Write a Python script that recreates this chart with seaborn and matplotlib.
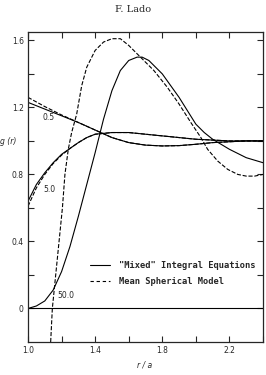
import numpy as np
import pandas as pd
import matplotlib
matplotlib.use("Agg")
import matplotlib.pyplot as plt
import seaborn as sns
from matplotlib.lines import Line2D

# --- data: g(r) vs r/a ---
r_mix_50 = [1.00, 1.05, 1.10, 1.15, 1.20, 1.25, 1.30, 1.35, 1.40, 1.45, 1.50,
            1.55, 1.60, 1.65, 1.68, 1.72, 1.80, 1.90, 2.00, 2.05, 2.10, 2.15,
            2.20, 2.30, 2.40]
g_mix_50 = [0.00, 0.015, 0.045, 0.11, 0.22, 0.37, 0.55, 0.74, 0.93, 1.13, 1.30,
            1.42, 1.48, 1.50, 1.50, 1.48, 1.40, 1.26, 1.10, 1.05, 1.01, 0.98,
            0.95, 0.90, 0.87]

r_msa_50 = [1.135, 1.145, 1.165, 1.185, 1.205, 1.22, 1.24, 1.26, 1.29, 1.32,
            1.35, 1.40, 1.45, 1.50, 1.55, 1.60, 1.67, 1.75, 1.83, 1.90, 1.97,
            2.03, 2.07, 2.13, 2.19, 2.25, 2.30, 2.35, 2.40]
g_msa_50 = [-0.20, 0.00, 0.20, 0.40, 0.60, 0.80, 0.95, 1.05, 1.16, 1.33,
            1.44, 1.54, 1.59, 1.61, 1.61, 1.57, 1.50, 1.42, 1.32, 1.22, 1.11,
            1.02, 0.95, 0.88, 0.83, 0.80, 0.79, 0.79, 0.80]

r_mix_05 = [1.0, 1.1, 1.2, 1.3, 1.4, 1.5, 1.6, 1.7, 1.8, 1.9, 2.0, 2.1, 2.2, 2.3, 2.4]
g_mix_05 = [1.23, 1.19, 1.15, 1.11, 1.065, 1.02, 0.99, 0.975, 0.97, 0.972,
            0.98, 0.99, 0.995, 1.0, 1.0]
r_msa_05 = [1.0, 1.1, 1.2, 1.3, 1.4, 1.5, 1.6, 1.7, 1.8, 1.9, 2.0, 2.1, 2.2, 2.3, 2.4]
g_msa_05 = [1.26, 1.205, 1.155, 1.11, 1.065, 1.02, 0.99, 0.975, 0.97, 0.972,
            0.98, 0.99, 0.995, 1.0, 1.0]

r_mix_5 = [1.0, 1.05, 1.1, 1.15, 1.2, 1.25, 1.3, 1.35, 1.4, 1.5, 1.6, 1.7,
           1.8, 1.9, 2.0, 2.2, 2.4]
g_mix_5 = [0.64, 0.74, 0.81, 0.87, 0.92, 0.955, 0.99, 1.02, 1.04, 1.05, 1.05,
           1.04, 1.03, 1.02, 1.01, 1.0, 1.0]
r_msa_5 = [1.0, 1.05, 1.1, 1.15, 1.2, 1.25, 1.3, 1.35, 1.4, 1.5, 1.6, 1.7,
           1.8, 1.9, 2.0, 2.2, 2.4]
g_msa_5 = [0.61, 0.72, 0.80, 0.865, 0.915, 0.955, 0.99, 1.02, 1.04, 1.05, 1.05,
           1.04, 1.03, 1.02, 1.01, 1.0, 1.0]

density_labels = ["0.5", "5.0", "50.0"]
legend_labels = ['"Mixed" Integral Equations', "Mean Spherical Model"]

sns.set_style("ticks")
plt.rcParams["font.family"] = ["DejaVu Sans"]

fig = plt.figure(figsize=(2.66, 3.75), dpi=100)
ax = fig.add_axes([28 / 266, 1 - 342 / 375, 235 / 266, 310 / 375])

curves = [
    (r_mix_05, g_mix_05, "-"), (r_msa_05, g_msa_05, "--"),
    (r_mix_5, g_mix_5, "-"), (r_msa_5, g_msa_5, "--"),
    (r_mix_50, g_mix_50, "-"), (r_msa_50, g_msa_50, "--"),
]
for rr, gg, ls in curves:
    df = pd.DataFrame({"r": rr, "g": gg})
    sns.lineplot(data=df, x="r", y="g", ax=ax, color="black", lw=0.8,
                 linestyle=ls, sort=False, estimator=None,
                 dashes=(4, 3) if ls == "--" else None)

ax.axhline(0, color="black", lw=0.8)

ax.set_xlim(1.0, 2.4)
ax.set_ylim(-0.2, 1.65)
ax.set_xticks(np.arange(1.0, 2.41, 0.2))
ax.set_xticklabels(["1.0", "", "1.4", "", "1.8", "", "2.2", ""])
ax.set_yticks(np.arange(0.0, 1.61, 0.2))
ax.set_yticklabels(["0", "", "0.4", "", "0.8", "", "1.2", "", "1.6"])
ax.tick_params(direction="in", length=4, width=0.8, labelsize=5.5,
               top=True, right=True, pad=3)
for s in ax.spines.values():
    s.set_linewidth(0.9)
ax.set_xlabel("")
ax.set_ylabel("")

# density labels
ax.text(1.085, 1.14, density_labels[0], fontsize=5.5, va="center")
ax.text(1.09, 0.71, density_labels[1], fontsize=5.5, va="center")
ax.text(1.175, 0.08, density_labels[2], fontsize=5.5, va="center")

handles = [Line2D([], [], color="black", lw=0.8, ls="-"),
           Line2D([], [], color="black", lw=0.8, dashes=(3, 2.5))]
ax.legend(handles, legend_labels, loc="upper left",
          bbox_to_anchor=(0.264, 0.262), frameon=False, borderpad=0,
          borderaxespad=0, handlelength=2.3, handletextpad=1.0,
          labelspacing=0.85, prop={"family": "DejaVu Sans Mono", "size": 6.3,
                                   "weight": "bold"})

fig.text(0.5, 1 - 10 / 375, "F. Lado", ha="center", va="center",
         fontsize=7, family="DejaVu Serif")
fig.text(145 / 266, 1 - 365 / 375, "r / a", ha="center", va="center",
         fontsize=5.5, style="italic")
fig.text(16 / 266, 1 - 141 / 375, "g (r)", ha="right", va="center",
         fontsize=5.5, style="italic")

fig.savefig("out.png", dpi=100)
